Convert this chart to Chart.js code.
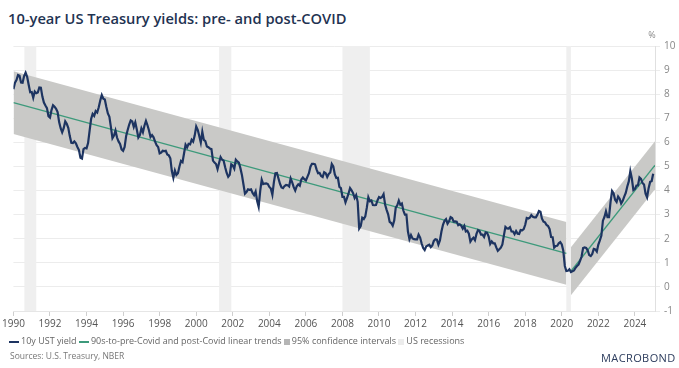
<!DOCTYPE html>
<html>
<head>
<meta charset="utf-8">
<script src="https://cdn.jsdelivr.net/npm/chart.js@4.4.1/dist/chart.umd.min.js"></script>
<style>
  body { margin: 0; width: 679px; height: 368px; background: #fff; position: relative; overflow: hidden; font-family: "Open Sans", sans-serif; }
  #chart { position: absolute; left: 0; top: 0; }
  #title { position: absolute; left: 8px; top: 8px; font-size: 14.7px; font-weight: 600; color: #1f3352; white-space: nowrap; }
  #legend { position: absolute; left: 9px; top: 334px; font-size: 9px; color: #666; white-space: nowrap; }
  #legend .ln { display: inline-block; width: 10px; height: 2px; vertical-align: middle; margin-right: 2px; }
  #legend .sq { display: inline-block; width: 6px; height: 6px; vertical-align: middle; margin-right: 2px; }
  #source { position: absolute; left: 10px; top: 350px; font-size: 8.5px; color: #777; white-space: nowrap; }
  #logo { position: absolute; left: 601px; top: 350px; font-size: 11px; color: #2b3b5c; letter-spacing: 0.4px; white-space: nowrap; }
</style>
</head>
<body>
<div id="title">10-year US Treasury yields: pre- and post-COVID</div>
<canvas id="chart" width="679" height="368"></canvas>
<div id="legend">
  <span class="ln" style="background:#1d3461"></span>10y UST yield
  <span class="ln" style="background:#3d9a7b"></span>90s-to-pre-Covid and post-Covid linear trends
  <span class="sq" style="background:#b5b5b5"></span>95% confidence intervals
  <span class="sq" style="background:#ececec"></span>US recessions
</div>
<div id="source">Sources: U.S. Treasury, NBER</div>
<div id="logo">MACROBOND</div>
<script>
// monthly 10y yield, Jan 1990 .. Jan 2025
const startYear = 1990;
const ust10y = [
  8.21, 8.47, 8.59, 8.79, 8.76, 8.48, 8.47, 8.75, 8.89, 8.72, 8.39, 8.08,
  8.09, 7.85, 8.11, 8.04, 8.07, 8.28, 8.27, 7.90, 7.65, 7.53, 7.42, 7.09,
  7.03, 7.34, 7.54, 7.48, 7.39, 7.26, 6.84, 6.59, 6.42, 6.59, 6.87, 6.77,
  6.60, 6.26, 5.98, 5.97, 6.04, 5.96, 5.81, 5.68, 5.36, 5.33, 5.72, 5.77,
  5.75, 5.97, 6.48, 6.97, 7.18, 7.10, 7.30, 7.24, 7.46, 7.74, 7.96, 7.81,
  7.78, 7.47, 7.20, 7.06, 6.63, 6.17, 6.28, 6.49, 6.20, 6.04, 5.93, 5.71,
  5.65, 5.81, 6.27, 6.51, 6.74, 6.91, 6.87, 6.64, 6.83, 6.53, 6.20, 6.30,
  6.58, 6.42, 6.69, 6.89, 6.71, 6.49, 6.22, 6.30, 6.21, 6.03, 5.88, 5.81,
  5.54, 5.57, 5.65, 5.64, 5.65, 5.50, 5.46, 5.34, 4.81, 4.53, 4.83, 4.65,
  4.72, 5.00, 5.23, 5.18, 5.54, 5.90, 5.79, 5.94, 5.92, 6.11, 6.03, 6.28,
  6.66, 6.52, 6.26, 5.99, 6.44, 6.10, 6.05, 5.83, 5.80, 5.74, 5.72, 5.24,
  5.16, 5.10, 4.89, 5.14, 5.39, 5.28, 5.24, 4.97, 4.73, 4.57, 4.65, 5.09,
  5.04, 4.91, 5.28, 5.21, 5.16, 4.93, 4.65, 4.26, 3.87, 3.94, 4.05, 4.03,
  4.05, 3.90, 3.81, 3.96, 3.57, 3.33, 3.98, 4.45, 4.27, 4.29, 4.30, 4.27,
  4.15, 4.08, 3.83, 4.35, 4.72, 4.73, 4.50, 4.28, 4.13, 4.10, 4.19, 4.23,
  4.22, 4.17, 4.50, 4.34, 4.14, 4.00, 4.18, 4.26, 4.20, 4.46, 4.54, 4.47,
  4.42, 4.57, 4.72, 4.99, 5.11, 5.11, 5.09, 4.88, 4.72, 4.73, 4.60, 4.56,
  4.76, 4.72, 4.56, 4.69, 4.75, 5.10, 5.00, 4.67, 4.52, 4.53, 4.15, 4.10,
  3.74, 3.74, 3.51, 3.68, 3.88, 4.10, 4.01, 3.89, 3.69, 3.81, 3.53, 2.42,
  2.52, 2.87, 2.82, 2.93, 3.29, 3.72, 3.56, 3.59, 3.40, 3.39, 3.40, 3.59,
  3.73, 3.69, 3.73, 3.85, 3.42, 3.20, 3.01, 2.70, 2.65, 2.54, 2.76, 3.29,
  3.39, 3.58, 3.41, 3.46, 3.17, 3.00, 3.00, 2.30, 1.98, 2.15, 2.01, 1.98,
  1.97, 1.97, 2.17, 2.05, 1.80, 1.62, 1.53, 1.68, 1.72, 1.75, 1.65, 1.72,
  1.91, 1.98, 1.96, 1.76, 1.93, 2.30, 2.58, 2.74, 2.81, 2.62, 2.72, 2.90,
  2.86, 2.71, 2.72, 2.71, 2.56, 2.60, 2.54, 2.42, 2.53, 2.30, 2.33, 2.21,
  1.88, 1.98, 2.04, 1.94, 2.20, 2.36, 2.32, 2.17, 2.17, 2.07, 2.26, 2.24,
  2.09, 1.78, 1.89, 1.81, 1.81, 1.64, 1.50, 1.56, 1.63, 1.76, 2.14, 2.49,
  2.43, 2.42, 2.48, 2.30, 2.30, 2.19, 2.32, 2.21, 2.20, 2.36, 2.35, 2.40,
  2.58, 2.86, 2.84, 2.87, 2.98, 2.91, 2.89, 2.89, 3.00, 3.15, 3.12, 2.83,
  2.71, 2.68, 2.57, 2.53, 2.40, 2.07, 2.06, 1.63, 1.70, 1.71, 1.81, 1.86,
  1.76, 1.50, 0.87, 0.66, 0.67, 0.73, 0.62, 0.65, 0.68, 0.79, 0.87, 0.93,
  1.08, 1.26, 1.61, 1.64, 1.62, 1.52, 1.32, 1.28, 1.37, 1.58, 1.56, 1.47,
  1.76, 1.93, 2.13, 2.75, 2.90, 3.14, 2.90, 2.90, 3.52, 3.98, 3.89, 3.62,
  3.53, 3.75, 3.66, 3.46, 3.57, 3.75, 3.90, 4.17, 4.38, 4.80, 4.50, 4.02,
  4.06, 4.21, 4.21, 4.54, 4.48, 4.31, 4.25, 3.87, 3.72, 4.10, 4.36, 4.39,
  4.70
];

// linear trends and their 95% bands (x in decimal years)
const preX = [1990, 2020.25];
const preTrend = [7.65, 1.39];
const preUpper = [8.95, 2.69];
const preLower = [6.35, 0.09];
const postX = [2020.5, 2025.1];
const postTrend = [0.65, 5.05];
const postUpper = [1.65, 6.05];
const postLower = [-0.35, 4.05];

const recessions = [[1990.6, 1991.25], [2001.25, 2001.92], [2008.0, 2009.5], [2020.25, 2020.5]];
const xTicks = [1990, 1992, 1994, 1996, 1998, 2000, 2002, 2004, 2006, 2008, 2010, 2012, 2014, 2016, 2018, 2020, 2022, 2024];

const pts = (xs, ys) => xs.map((x, i) => ({ x: x, y: ys[i] }));
const yieldPts = ust10y.map((v, i) => ({ x: startYear + i / 12, y: v }));

const recessionPlugin = {
  id: "recessions",
  beforeDatasetsDraw(chart) {
    const { ctx, chartArea, scales } = chart;
    ctx.save();
    ctx.fillStyle = "#efefef";
    recessions.forEach(([a, b]) => {
      const x0 = scales.x.getPixelForValue(a);
      const x1 = scales.x.getPixelForValue(b);
      ctx.fillRect(x0, chartArea.top, x1 - x0, chartArea.bottom - chartArea.top);
    });
    ctx.restore();
  },
  afterDraw(chart) {
    const { ctx, chartArea } = chart;
    ctx.save();
    ctx.fillStyle = "#888";
    ctx.font = "9px 'Open Sans'";
    ctx.textAlign = "center";
    ctx.fillText("%", chartArea.right - 3, chartArea.top - 8);
    ctx.restore();
  },
};

const band = (label, xs, ys, fill) => ({
  label: label,
  data: pts(xs, ys),
  borderWidth: 0,
  pointRadius: 0,
  backgroundColor: "#c9c9c7",
  fill: fill,
  order: 3,
});

new Chart(document.getElementById("chart"), {
  type: "line",
  data: {
    datasets: [
      { label: "10y UST yield", data: yieldPts, borderColor: "#1d3461", borderWidth: 2.2, pointRadius: 0, order: 0 },
      { label: "pre trend", data: pts(preX, preTrend), borderColor: "#3d9a7b", borderWidth: 1.3, pointRadius: 0, order: 1 },
      { label: "post trend", data: pts(postX, postTrend), borderColor: "#3d9a7b", borderWidth: 1.3, pointRadius: 0, order: 1 },
      band("pre lower", preX, preLower, false),
      band("pre upper", preX, preUpper, "-1"),
      band("post lower", postX, postLower, false),
      band("post upper", postX, postUpper, "-1"),
    ],
  },
  options: {
    responsive: false,
    animation: false,
    layout: { padding: { left: 12.7, top: 46, right: 0, bottom: 37 } },
    plugins: { legend: { display: false }, tooltip: { enabled: false } },
    scales: {
      x: {
        type: "linear",
        min: 1990,
        max: 2025.1,
        afterBuildTicks: (scale) => { scale.ticks = xTicks.map((v) => ({ value: v })); },
        afterFit: (scale) => { scale.height = 20; },
        ticks: { callback: (v) => String(v), color: "#555", font: { family: "Open Sans", size: 10 }, padding: 2, maxRotation: 0, autoSkip: false },
        grid: { drawOnChartArea: false, tickLength: 5, color: "#cfcfcf" },
        border: { color: "#e6e6e6" },
      },
      y: {
        position: "right",
        min: -1,
        max: 10,
        afterFit: (scale) => { scale.width = 24; },
        ticks: { stepSize: 1, color: "#888", font: { family: "Open Sans", size: 10 }, padding: 4 },
        grid: { color: "#ececec", tickLength: 5 },
        border: { color: "#e0e0e0" },
      },
    },
  },
  plugins: [recessionPlugin],
});
</script>
</body>
</html>
